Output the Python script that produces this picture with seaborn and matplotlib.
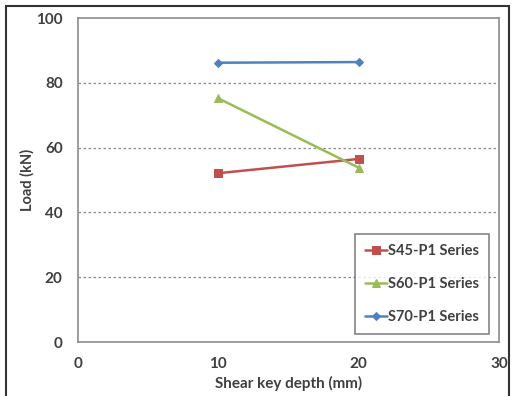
import matplotlib
matplotlib.use("Agg")
import matplotlib.pyplot as plt
import seaborn as sns
import pandas as pd
from matplotlib.patches import Rectangle

# data
depth = [10, 20]
s45 = [52.1, 56.5]
s60 = [75.2, 53.8]
s70 = [86.2, 86.4]
series_names = ["S45-P1 Series", "S60-P1 Series", "S70-P1 Series"]
colors = ["#C0504D", "#9BBB59", "#4F81BD"]
markers = ["s", "^", "D"]

sns.set_style("white")
plt.rcParams["font.family"] = ["Lato", "DejaVu Sans"]

df = pd.DataFrame({
    "depth": depth * 3,
    "load": s45 + s60 + s70,
    "series": [series_names[0]] * 2 + [series_names[1]] * 2 + [series_names[2]] * 2,
})

fig = plt.figure(figsize=(5.23, 3.96), dpi=100)
ax = fig.add_axes([78 / 523, 1 - 342 / 396, (499 - 78) / 523, (342 - 18) / 396])

for name, c, m in zip(series_names, colors, markers):
    sub = df[df["series"] == name]
    ms = 6 if m != "D" else 4.5
    sns.lineplot(data=sub, x="depth", y="load", color=c, marker=m, markersize=ms,
                 markeredgecolor=c, linewidth=1.8, label=name, ax=ax)

ax.set_xlim(0, 30)
ax.set_ylim(0, 100)
ax.set_xticks([0, 10, 20, 30])
ax.set_yticks([0, 20, 40, 60, 80, 100])
for yv in [20, 40, 60, 80]:
    ax.axhline(yv, color="#8a8a8a", linestyle=(0, (2, 2)), linewidth=0.9, zorder=0)

ax.set_xlabel("Shear key depth (mm)", fontsize=11, color="#404040", fontweight="bold", labelpad=3)
ax.set_ylabel("Load (kN)", fontsize=10.5, color="#404040", fontweight="bold", labelpad=1)
ax.tick_params(axis="both", labelsize=11, colors="#404040", length=0, pad=11)
for lab in ax.get_xticklabels() + ax.get_yticklabels():
    lab.set_fontweight("bold")
for sp in ax.spines.values():
    sp.set_color("#8c8c8c")
    sp.set_linewidth(1.2)

leg = ax.legend(loc="lower right", bbox_to_anchor=(0.977, 0.025), fontsize=10.5,
                frameon=True, fancybox=False, handlelength=1.5, labelspacing=1.3,
                borderpad=0.7, handletextpad=0.1, borderaxespad=0)
leg.get_frame().set_edgecolor("#666666")
leg.get_frame().set_linewidth(1.2)
for t in leg.get_texts():
    t.set_color("#404040")
    t.set_fontweight("bold")

# outer chart border
fig.patches.append(Rectangle((6 / 523, -0.01), (509 - 6) / 523, 1 - 6 / 396 + 0.01,
                             transform=fig.transFigure, fill=False,
                             edgecolor="#333333", linewidth=1.5))

fig.savefig("out.png", dpi=100)
